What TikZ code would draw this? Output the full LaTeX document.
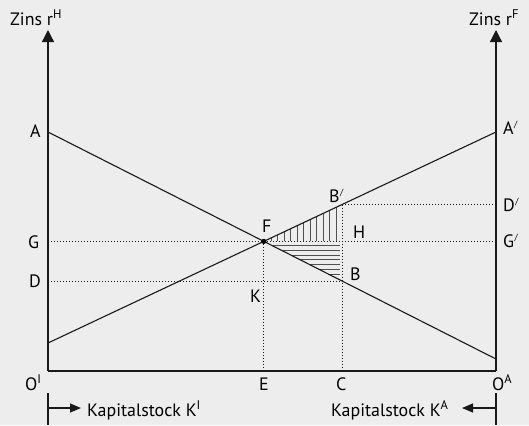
\documentclass[tikz,border=0pt]{standalone}
\usepackage{fontspec}
\setmainfont{PT Sans}
\usetikzlibrary{arrows.meta}
\definecolor{bg}{RGB}{237,237,237}
\definecolor{ln}{RGB}{25,25,25}
\definecolor{ht}{RGB}{80,80,80}
\newcommand{\pr}{\textsuperscript{\kern0.5pt\fontsize{9}{9}\selectfont /}}
\begin{document}
\begin{tikzpicture}[x=1bp,y=-1bp,
  lbl/.style={inner sep=0pt, anchor=base west, font=\fontsize{18}{21}\selectfont},
  axis/.style={draw=ln, line width=1.3bp},
  curve/.style={draw=ln, line width=1.1bp},
  dots/.style={draw=ln, line width=0.9bp, dash pattern=on 1bp off 2bp},
  hatch/.style={draw=ht, line width=1bp},
  tipbig/.style={-{Triangle[width=12bp,length=12bp]}},
  tipsmall/.style={-{Triangle[width=9bp,length=11bp]}}]
\fill[bg] (0,0) rectangle (529,425);
\useasboundingbox (0,0) rectangle (529,425);
% points
\coordinate (OI) at (48,371);
\coordinate (OA) at (496,371);
\coordinate (TI) at (48,30);
\coordinate (TA) at (496,30);
\coordinate (A) at (48,132);
\coordinate (Aend) at (496,359);
\coordinate (Ap) at (496,132);
\coordinate (Apstart) at (48,343);
\coordinate (F) at (263.8,241.4);
\coordinate (B) at (342,281);
\coordinate (Bp) at (342,204.5);
\coordinate (G) at (48,241.4);
\coordinate (Gp) at (496,241.4);
\coordinate (D) at (48,281);
\coordinate (Dp) at (496,204.5);
\coordinate (E) at (263.8,371);
\coordinate (C) at (342,371);
\coordinate (LbarT) at (48,393);
\coordinate (LbarB) at (48,425);
\coordinate (RbarT) at (496,393);
\coordinate (RbarB) at (496,425);
\coordinate (Larr0) at (48,408);
\coordinate (Larr1) at (81,408);
\coordinate (Rarr0) at (496,408);
\coordinate (Rarr1) at (462,408);
% hatching
\foreach \x in {271,277.5,...,336.5} {
  \draw[hatch] (\x,240.5) -- (\x,{343-(\x-48)/448*211});
}
\foreach \y in {245.8,250.5,...,275} {
  \draw[hatch] ({48+(\y-132)/227*448},\y) -- (340,\y);
}
% dotted lines
\draw[dots] (G) -- (Gp);
\draw[dots] (D) -- (B);
\draw[dots] (Bp) -- (Dp);
\draw[dots] (F) -- (E);
\draw[dots] (Bp) -- (C);
% lines
\draw[curve] (A) -- (Aend);
\draw[curve] (Apstart) -- (Ap);
% axes
\draw[axis, tipbig] (OI) -- (TI);
\draw[axis, tipbig] (OA) -- (TA);
\draw[axis] (OI) -- (OA);
\fill[black] (F) circle (2.6bp);
% bottom arrows
\draw[axis, line width=1.1bp] (LbarT) -- (LbarB);
\draw[axis, line width=1.1bp] (RbarT) -- (RbarB);
\draw[axis, line width=1.1bp, tipsmall] (Larr0) -- (Larr1);
\draw[axis, line width=1.1bp, tipsmall] (Rarr0) -- (Rarr1);
% labels
\node[lbl] (zH) at (10,25) {Zins r\textsuperscript{H}};
\node[lbl] (zF) at (469,25) {Zins r\textsuperscript{F}};
\node[lbl] (lA) at (30,137) {A};
\node[lbl] (lG) at (28,248) {G};
\node[lbl] (lD) at (29,287) {D};
\node[lbl] (lAp) at (503,134) {A\pr};
\node[lbl] (lDp) at (503,211) {D\pr};
\node[lbl] (lGp) at (503,247) {G\pr};
\node[lbl] (lF) at (262,232) {F};
\node[lbl] (lBp) at (329,202) {B\pr};
\node[lbl] (lH) at (353,238) {H};
\node[lbl] (lB) at (350,280) {B};
\node[lbl] (lK) at (250,302) {K};
\node[lbl] (lE) at (259,390) {E};
\node[lbl] (lC) at (336,390) {C};
\node[lbl] (lOI) at (25,390) {O\textsuperscript{I}};
\node[lbl] (lOA) at (492,390) {O\textsuperscript{A}};
\node[lbl] (kI) at (87,416) {Kapitalstock K\textsuperscript{I}};
\node[lbl] (kA) at (331,416) {Kapitalstock K\textsuperscript{A}};
\end{tikzpicture}
\end{document}
